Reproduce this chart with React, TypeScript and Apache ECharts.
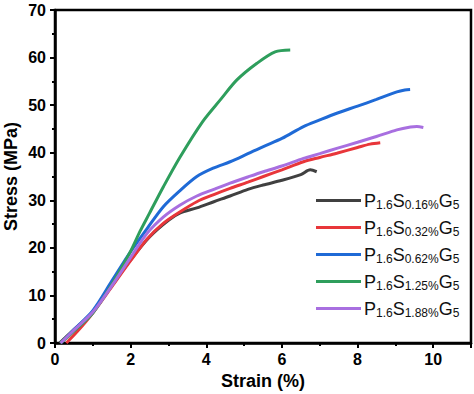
import React, { useEffect, useRef } from "react";
import * as echarts from "echarts";

const seriesKeys = ["0.16%", "0.32%", "0.62%", "1.25%", "1.88%"];
const seriesColors = ["#404040", "#e8363a", "#1f6ad6", "#2e9e5c", "#a86fe0"];

const curveS016: number[][] = [
  [0.12, 0], [0.5, 2.8], [0.8, 5], [1.0, 6.6], [1.5, 12], [2.0, 17.5], [2.5, 22.3],
  [3.0, 25.8], [3.3, 27.3], [3.75, 28.4], [4.2, 29.7], [4.63, 30.9], [5.1, 32.3],
  [5.5, 33.2], [6.0, 34.2], [6.5, 35.4], [6.75, 36.4], [6.92, 36.0],
];
const curveS032: number[][] = [
  [0.3, 0], [0.6, 2.5], [1.0, 6.3], [1.5, 11.8], [2.0, 17.3], [2.43, 21.8], [2.87, 25.2],
  [3.31, 27.6], [3.75, 29.7], [4.2, 31.2], [4.63, 32.5], [5.1, 33.8], [5.51, 35],
  [6.0, 36.4], [6.57, 38.1], [7.0, 39], [7.45, 39.9], [8.0, 41.1], [8.33, 41.8], [8.6, 42.1],
];
const curveS062: number[][] = [
  [0.15, 0], [0.5, 2.8], [1.0, 6.8], [1.5, 13], [2.0, 19.2], [2.43, 24], [2.87, 28.7],
  [3.3, 32], [3.75, 35], [4.2, 36.8], [4.63, 38.1], [5.1, 39.8], [5.51, 41.3], [6.0, 43.0],
  [6.57, 45.5], [7.0, 46.9], [7.45, 48.3], [8.0, 49.8], [8.5, 51.2], [9.04, 52.8],
  [9.25, 53.2], [9.39, 53.3],
];
const curveS125: number[][] = [
  [0.15, 0], [0.5, 2.5], [1.0, 6.3], [1.5, 12.3], [2.0, 19.3], [2.25, 23.5], [2.5, 27.3],
  [2.87, 32.9], [3.3, 39], [3.9, 46.5], [4.37, 51.1], [4.81, 55.3], [5.34, 58.8],
  [5.82, 61.2], [6.22, 61.6],
];
const curveS188: number[][] = [
  [0.15, 0], [0.5, 2.7], [1.0, 6.5], [1.5, 12], [2.0, 18], [2.43, 23], [2.87, 26.5],
  [3.31, 29], [3.75, 30.9], [4.2, 32.3], [4.63, 33.6], [5.1, 34.9], [5.51, 36], [6.0, 37.2],
  [6.57, 38.8], [7.0, 39.8], [7.45, 40.9], [8.0, 42.2], [8.5, 43.4], [9.04, 44.8],
  [9.4, 45.4], [9.57, 45.5], [9.74, 45.3],
];
const curves = [curveS016, curveS032, curveS062, curveS125, curveS188];

const FONT = "'Liberation Sans', Arial, sans-serif";

export default function App() {
  const ref = useRef<HTMLDivElement>(null);
  useEffect(() => {
    if (!ref.current) return;
    const chart = echarts.init(ref.current, undefined, { renderer: "svg" });
    const names = seriesKeys.map((k) => "P1.6S" + k + "G5");
    chart.setOption({
      animation: false,
      grid: {
        left: 55, right: 3, top: 10, bottom: 51,
        containLabel: false,
        outerBoundsMode: "none",
        show: true, borderColor: "#000", borderWidth: 2.5,
      },
      legend: {
        data: names,
        orient: "vertical",
        left: 311,
        top: 185,
        itemWidth: 45,
        itemHeight: 3,
        itemGap: 6,
        icon: "rect",
        formatter: (name: string) => {
          const k = name.slice(5, name.length - 2);
          return "{b|P}{s|1.6}{b|S}{s|" + k + "}{b|G}{s|5}";
        },
        textStyle: {
          fontFamily: FONT,
          color: "#111",
          padding: [0, 0, 0, -2],
          rich: {
            b: { fontSize: 18, fontFamily: FONT, color: "#111", lineHeight: 22 },
            s: { fontSize: 12, fontFamily: FONT, color: "#111", padding: [9, 0, 0, 0], lineHeight: 22 },
          },
        },
      },
      xAxis: {
        type: "value",
        min: 0,
        max: 11,
        interval: 2,
        name: "Strain (%)",
        nameLocation: "middle",
        nameGap: 28,
        nameTextStyle: { fontFamily: FONT, fontSize: 18, fontWeight: "bold", color: "#000" },
        axisLine: { show: true, lineStyle: { color: "#000", width: 2.5 } },
        axisTick: { show: true, inside: false, length: 5, lineStyle: { color: "#000", width: 2 } },
        minorTick: { show: true, splitNumber: 2, length: 3, lineStyle: { color: "#000", width: 2 } },
        splitLine: { show: false },
        axisLabel: {
          fontFamily: FONT, fontSize: 16, fontWeight: "bold", color: "#000", margin: 8,
          showMaxLabel: false,
        },
      },
      yAxis: {
        type: "value",
        min: 0,
        max: 70,
        interval: 10,
        name: "Stress (MPa)",
        nameLocation: "middle",
        nameGap: 35,
        nameMoveOverlap: false,
        nameTextStyle: { fontFamily: FONT, fontSize: 18, fontWeight: "bold", color: "#000" },
        axisLine: { show: true, lineStyle: { color: "#000", width: 2.5 } },
        axisTick: { show: true, inside: false, length: 5, lineStyle: { color: "#000", width: 2 } },
        minorTick: { show: true, splitNumber: 2, length: 3, lineStyle: { color: "#000", width: 2 } },
        splitLine: { show: false },
        axisLabel: { fontFamily: FONT, fontSize: 16, fontWeight: "bold", color: "#000", margin: 9 },
      },
      series: curves.map((d, i) => ({
        name: names[i],
        type: "line",
        data: d,
        smooth: 0.3,
        symbol: "none",
        color: seriesColors[i],
        lineStyle: { color: seriesColors[i], width: 3 },
      })),
    });
    return () => chart.dispose();
  }, []);
  return (
    <div
      ref={ref}
      style={{ position: "fixed", left: 0, top: 0, width: 474, height: 394, background: "#fff" }}
    />
  );
}
